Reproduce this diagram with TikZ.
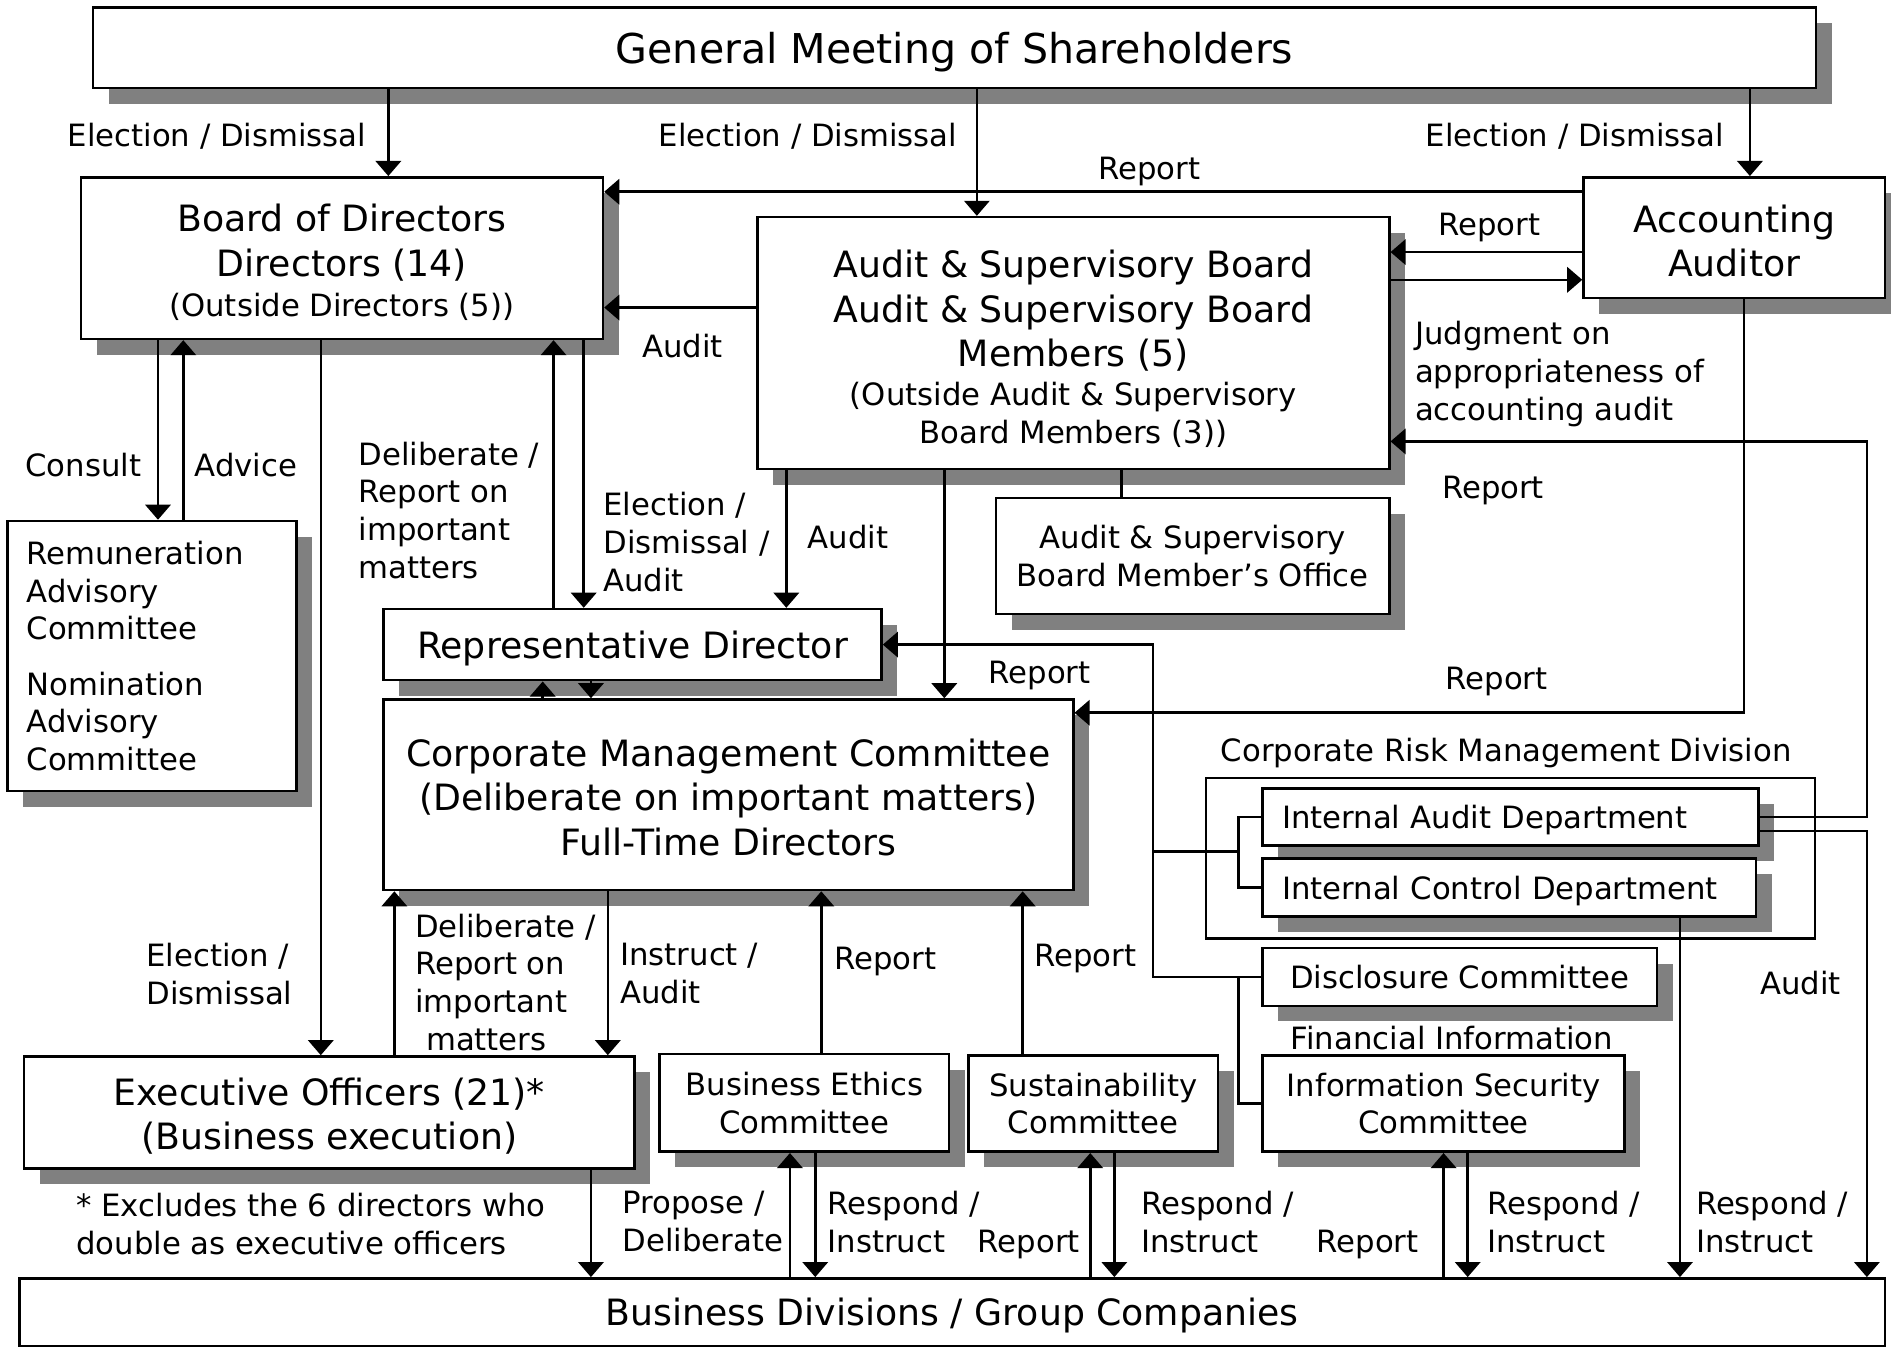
\documentclass[tikz,border=0pt]{standalone}
\usepackage{fontspec}
\setmainfont{DejaVu Sans}
\usetikzlibrary{arrows.meta,shadows}

\newcommand{\fTitle}{\fontsize{19.4pt}{23pt}\selectfont}
\newcommand{\fBig}{\fontsize{17.1pt}{21pt}\selectfont}
\newcommand{\fSmall}{\fontsize{14.5pt}{17.8pt}\selectfont}
\newcommand{\pushdown}[1]{\rule{0pt}{#1}}

\tikzset{
  box/.style={draw, line width=1.2pt, fill=white, inner sep=0pt, align=center, font=\fBig},
  shbox/.style={box, drop shadow={shadow xshift=0.26cm, shadow yshift=-0.26cm, opacity=1, fill=black!50}},
  lbl/.style={inner sep=0pt, align=left, font=\fSmall},
  ln/.style={line width=1.2pt},
  arr/.style={ln, -{Triangle[length=0.25cm, width=0.42cm]}}
}

\begin{document}
\begin{tikzpicture}[x=0.02cm, y=-0.02cm]

		\useasboundingbox (0,0) rectangle (1568,1117);
		\clip (0,0) rectangle (1568,1117);

		\node (gm) at (791.5,39.5) [shbox, font=\fTitle, text depth=0pt, minimum width=28.58cm, minimum height=1.34cm] {General Meeting of Shareholders};
		\node (board) at (283.5,214) [shbox, minimum width=8.66cm, minimum height=2.68cm] {\pushdown{17pt}Board of Directors\\Directors (14)\\[-0.08cm]{\fSmall (Outside Directors (5))}};
		\node (acc) at (1438,197) [shbox, minimum width=5cm, minimum height=2cm] {\pushdown{16.4pt}Accounting\\Auditor};
		\node (asb) at (890,284.5) [shbox, minimum width=10.48cm, minimum height=4.18cm] {\pushdown{18.7pt}Audit \& Supervisory Board\\Audit \& Supervisory Board\\Members (5)\\[-0.1cm]{\fSmall (Outside Audit \& Supervisory}\\[-0.1cm]{\fSmall Board Members (3))}};
		\node (office) at (989,461) [shbox, font=\fSmall, minimum width=6.52cm, minimum height=1.92cm] {Audit \& Supervisory\\Board Member’s Office};
		\node (rem) at (126,544) [shbox, font=\fSmall, align=left, text width=4.16cm, inner xsep=0.32cm, minimum height=4.48cm] {Remuneration\\Advisory\\Committee\\[0.29cm]Nomination\\Advisory\\Committee};
		\node (rep) at (524.5,534.5) [shbox, text depth=0pt, minimum width=8.26cm, minimum height=1.18cm] {Representative Director};
		\node (cmc) at (604,659) [shbox, minimum width=11.44cm, minimum height=3.16cm] {\pushdown{15.3pt}Corporate Management Committee\\(Deliberate on important matters)\\Full-Time Directors};
		\node (exec) at (273,922.5) [shbox, minimum width=10.12cm, minimum height=1.86cm] {\pushdown{16.4pt}Executive Officers (21)*\\(Business execution)};
		\node (ethics) at (667,914.5) [shbox, font=\fSmall, minimum width=4.8cm, minimum height=1.62cm] {Business Ethics\\Committee};
		\node (sust) at (906.5,915) [shbox, font=\fSmall, minimum width=4.14cm, minimum height=1.6cm] {Sustainability\\Committee};
		\node (infosec) at (1197,915) [shbox, font=\fSmall, minimum width=6cm, minimum height=1.6cm] {Information Security\\Committee};
		\node (discl) at (1210.5,810) [shbox, font=\fSmall, minimum width=6.54cm, minimum height=0.96cm] {Disclosure Committee};
		\node (risk) at (1252.5,711.5) [box, minimum width=10.1cm, minimum height=2.66cm] {};
		\node (iad) at (1252.5,677.5) [shbox, font=\fSmall, text depth=0pt, align=left, text width=7.58cm, inner xsep=0.32cm, minimum height=0.94cm] {Internal Audit Department};
		\node (icd) at (1251.5,736) [shbox, font=\fSmall, text depth=0pt, align=left, text width=7.54cm, inner xsep=0.32cm, minimum height=0.96cm] {Internal Control Department};
		\node (bd) at (789.5,1088) [box, text depth=0pt, minimum width=30.94cm, minimum height=1.12cm] {Business Divisions / Group Companies};

		\node (lElecA) at (180,113) [lbl] {Election / Dismissal};
		\node (lElecB) at (670,113) [lbl] {Election / Dismissal};
		\node (lElecC) at (1306,113) [lbl] {Election / Dismissal};
		\node (lRepA) at (953,142) [lbl] {Report};
		\node (lRepB) at (1235,189) [lbl] {Report};
		\node (lJudg) at (1173,310) [lbl, anchor=west] {Judgment on\\appropriateness of\\accounting audit};
		\node (lAudA) at (566,287) [lbl] {Audit};
		\node (lRepC) at (1238,407) [lbl] {Report};
		\node (lCons) at (69,386) [lbl] {Consult};
		\node (lAdv) at (204,386) [lbl] {Advice};
		\node (lDelA) at (297,423) [lbl, anchor=west] {Deliberate /\\Report on\\important\\matters};
		\node (lElecD) at (500,449.5) [lbl, anchor=west] {Election /\\Dismissal /\\Audit};
		\node (lAudB) at (703,445) [lbl] {Audit};
		\node (lRepD) at (862,560) [lbl] {Report};
		\node (lRepE) at (1241,565) [lbl] {Report};
		\node (lRisk) at (1249,624) [lbl] {Corporate Risk Management Division};
		\node (lElecE) at (121,807.5) [lbl, anchor=west] {Election /\\Dismissal};
		\node (lDelB) at (344,814.5) [lbl, anchor=west] {Deliberate /\\Report on\\important\\\hspace*{0.18cm}matters};
		\node (lInst) at (514,807.5) [lbl, anchor=west] {Instruct /\\Audit};
		\node (lRepF) at (734,797) [lbl] {Report};
		\node (lRepG) at (900,795) [lbl] {Report};
		\node (lAudC) at (1493,815) [lbl] {Audit};
		\node (lFin) at (1204,861) [lbl] {Financial Information};
		\node (lNote) at (63,1015) [lbl, anchor=west] {* Excludes the 6 directors who\\double as executive officers};
		\node (lProp) at (516,1013) [lbl, anchor=west] {Propose /\\Deliberate};
		\node (lRespA) at (686,1013) [lbl, anchor=west] {Respond /\\Instruct};
		\node (lRepH) at (853,1032) [lbl] {Report};
		\node (lRespB) at (946,1013) [lbl, anchor=west] {Respond /\\Instruct};
		\node (lRepI) at (1134,1032) [lbl] {Report};
		\node (lRespC) at (1233,1013) [lbl, anchor=west] {Respond /\\Instruct};
		\node (lRespD) at (1406,1013) [lbl, anchor=west] {Respond /\\Instruct};

		\coordinate (cAud) at (1548,366);
		\coordinate (cAcc) at (1446,591);
		\coordinate (cJn) at (956,706);
		\coordinate (cBr) at (1027,706);
		\coordinate (cDs) at (1027,810);

		\draw [arr] (gm.south -| 322,0) -- (board.north -| 322,0);
		\draw [arr] (gm.south -| 810,0) -- (asb.north -| 810,0);
		\draw [arr] (gm.south -| 1451,0) -- (acc.north -| 1451,0);
		\draw [arr] (acc.west |- 0,159) -- (board.east |- 0,159);
		\draw [arr] (acc.west |- 0,209) -- (asb.east |- 0,209);
		\draw [arr] (asb.east |- 0,232) -- (acc.west |- 0,232);
		\draw [arr] (asb.west |- 0,255) -- (board.east |- 0,255);
		\draw [arr] (iad.east) -| (cAud) -- (asb.east |- cAud);
		\draw [arr] ([yshift=-0.23cm]iad.east) -| (bd.north -| cAud);
		\draw [arr] (acc.south -| cAcc) -- (cAcc) -- (cmc.east |- cAcc);

		\draw [arr] (board.south -| 131,0) -- (rem.north -| 131,0);
		\draw [arr] (rem.north -| 152,0) -- (board.south -| 152,0);
		\draw [arr] (board.south -| 266,0) -- (exec.north -| 266,0);
		\draw [arr] (rep.north -| 459,0) -- (board.south -| 459,0);
		\draw [arr] (board.south -| 484,0) -- (rep.north -| 484,0);
		\draw [arr] (asb.south -| 652,0) -- (rep.north -| 652,0);
		\draw [arr] (asb.south -| 783,0) -- (cmc.north -| 783,0);
		\draw [ln] (asb.south -| 930,0) -- (office.north -| 930,0);
		\draw [arr] (cmc.north -| 450,0) -- (rep.south -| 450,0);
		\draw [arr] (rep.south -| 490,0) -- (cmc.north -| 490,0);

		\draw [arr] (discl.west) -| (cJn) |- (rep.east);
		\draw [ln] (cJn) -- (cBr);
		\draw [ln] (iad.west) -| (cBr) |- (icd.west);
		\draw [ln] (infosec.west) -| (cDs);

		\draw [arr] (exec.north -| 327,0) -- (cmc.south -| 327,0);
		\draw [arr] (cmc.south -| 504,0) -- (exec.north -| 504,0);
		\draw [arr] (ethics.north -| 681,0) -- (cmc.south -| 681,0);
		\draw [arr] (sust.north -| 848,0) -- (cmc.south -| 848,0);

		\draw [arr] (exec.south -| 490,0) -- (bd.north -| 490,0);
		\draw [arr] (bd.north -| 655,0) -- (ethics.south -| 655,0);
		\draw [arr] (ethics.south -| 676,0) -- (bd.north -| 676,0);
		\draw [arr] (bd.north -| 904,0) -- (sust.south -| 904,0);
		\draw [arr] (sust.south -| 924,0) -- (bd.north -| 924,0);
		\draw [arr] (bd.north -| 1197,0) -- (infosec.south -| 1197,0);
		\draw [arr] (infosec.south -| 1217,0) -- (bd.north -| 1217,0);
		\draw [arr] (icd.south -| 1393,0) -- (bd.north -| 1393,0);

		\end{tikzpicture}
\end{document}
